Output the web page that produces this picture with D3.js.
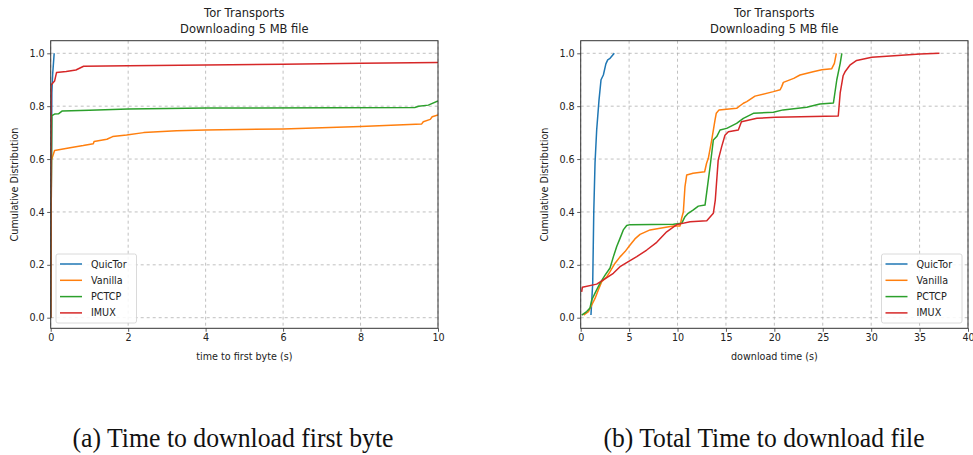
<!DOCTYPE html>
<html><head><meta charset="utf-8">
<script src="https://cdn.jsdelivr.net/npm/d3@7/dist/d3.min.js"></script>
<style>
html,body{margin:0;padding:0;background:#fff;}
svg{display:block;font-family:"DejaVu Sans",sans-serif;}
.cap{font-family:"Liberation Serif","Times New Roman",Times,serif;}
</style></head>
<body>
<svg id="chart" width="973" height="455"></svg>
<script>
// ---------- DATA ----------
const seriesNames = ["QuicTor", "Vanilla", "PCTCP", "IMUX"];
const seriesColors = ["#1f77b4", "#ff7f0e", "#2ca02c", "#d62728"];
const yTicks = [0.0, 0.2, 0.4, 0.6, 0.8, 1.0];
const ttfbXTicks = [0, 2, 4, 6, 8, 10];
const totalXTicks = [0, 5, 10, 15, 20, 25, 30, 35, 40];
const titleLines = ["Tor Transports", "Downloading 5 MB file"];
const captions = ["(a)  Time to download first byte", "(b)  Total Time to download file"];

// (a) time to first byte: [seconds, cdf]
const ttfbQuicTor = [[0,0],[0.01,0.3],[0.02,0.6],[0.03,0.85],[0.05,0.92],[0.07,0.96],[0.09,1.0]];
const ttfbVanilla = [[0,0],[0.01,0.3],[0.02,0.596],[0.1,0.632],[0.5,0.643],[0.84,0.651],[1.1,0.658],[1.12,0.666],[1.45,0.675],[1.6,0.685],[1.96,0.691],[2.4,0.70],[3.25,0.707],[4.0,0.71],[6.0,0.714],[8.0,0.723],[9.58,0.733],[9.62,0.741],[9.8,0.75],[9.85,0.76],[10,0.767]];
const ttfbPCTCP = [[0,0],[0.01,0.4],[0.03,0.764],[0.1,0.77],[0.2,0.771],[0.3,0.782],[1.0,0.785],[2.0,0.789],[4.0,0.793],[9.4,0.795],[9.5,0.80],[9.75,0.804],[10,0.82]];
const ttfbIMUX = [[0,0],[0.005,0.5],[0.01,0.88],[0.1,0.895],[0.15,0.927],[0.4,0.931],[0.65,0.937],[0.85,0.951],[2.0,0.953],[4.0,0.956],[6.0,0.959],[8.0,0.962],[10,0.965]];

// (b) total download time: [seconds, cdf]
const totalQuicTor = [[1.06,0.01],[1.24,0.13],[1.35,0.4],[1.48,0.585],[1.65,0.71],[1.89,0.823],[2.1,0.9],[2.34,0.918],[2.6,0.96],[2.79,0.975],[3.03,0.981],[3.47,1.0]];
const totalVanilla = [[0.3,0.01],[0.8,0.023],[1.14,0.048],[1.48,0.073],[1.82,0.105],[2.17,0.136],[2.7,0.155],[3.03,0.174],[3.55,0.206],[4.06,0.23],[4.58,0.25],[5.1,0.275],[5.6,0.298],[6.13,0.315],[7.16,0.332],[8.5,0.34],[9.57,0.347],[10.26,0.347],[10.43,0.377],[10.6,0.4],[10.77,0.496],[10.95,0.54],[11.6,0.546],[12.8,0.552],[13.0,0.584],[13.18,0.603],[13.53,0.672],[13.87,0.747],[14.0,0.773],[14.29,0.786],[16.1,0.792],[16.8,0.811],[17.15,0.817],[18.0,0.838],[19.9,0.855],[20.6,0.862],[20.76,0.874],[20.93,0.89],[22.0,0.905],[22.65,0.918],[24.0,0.93],[24.9,0.938],[25.93,0.942],[26.2,0.962],[26.4,1.0]];
const totalPCTCP = [[0.1,0.01],[0.62,0.023],[0.96,0.037],[1.14,0.067],[1.48,0.093],[2.0,0.131],[2.5,0.16],[3.03,0.188],[3.37,0.23],[3.72,0.269],[4.06,0.30],[4.4,0.332],[4.75,0.349],[5.1,0.352],[9.57,0.353],[10.43,0.357],[10.77,0.382],[11.1,0.395],[11.6,0.407],[12.15,0.422],[12.84,0.426],[13.0,0.47],[13.36,0.571],[13.7,0.672],[14.05,0.685],[14.39,0.71],[15.08,0.716],[16.1,0.735],[16.8,0.754],[17.83,0.773],[19.9,0.777],[20.9,0.786],[23.35,0.796],[24.7,0.808],[26.1,0.812],[26.45,0.9],[26.8,0.962],[26.97,1.0]];
const totalIMUX = [[0.1,0.098],[0.17,0.115],[1.65,0.127],[2.34,0.143],[3.37,0.168],[4.06,0.193],[4.92,0.212],[5.79,0.231],[6.82,0.256],[7.85,0.285],[8.88,0.325],[9.92,0.352],[11.3,0.363],[13.02,0.367],[13.7,0.395],[13.9,0.445],[14.2,0.596],[14.56,0.647],[14.9,0.69],[15.25,0.703],[16.28,0.71],[16.6,0.741],[18.2,0.754],[20.1,0.758],[26.6,0.763],[26.8,0.85],[27.1,0.915],[27.3,0.93],[27.8,0.955],[28.5,0.973],[30.06,0.985],[35.05,0.997],[37.05,1.0]];

// ---------- DRAW ----------
const svg = d3.select("#chart");
const panels = [
  {x0: 50.7, x1: 438, xDomain: [0, 10], xTicks: ttfbXTicks, xLabel: "time to first byte (s)",
   data: [ttfbQuicTor, ttfbVanilla, ttfbPCTCP, ttfbIMUX], legendX: 56, caption: captions[0], capX: 233},
  {x0: 580.7, x1: 968, xDomain: [0, 40], xTicks: totalXTicks, xLabel: "download time (s)",
   data: [totalQuicTor, totalVanilla, totalPCTCP, totalIMUX], legendX: 881.5, caption: captions[1], capX: 764}
];
const yTop = 40.7, yBot = 328.3;
const fontSm = 9.6;

panels.forEach((p, pi) => {
  const x = d3.scaleLinear().domain(p.xDomain).range([p.x0, p.x1]);
  const y = d3.scaleLinear().domain([0, 1]).range([317.7, 53.3]);
  const g = svg.append("g");
  const cx = (p.x0 + p.x1) / 2;

  // grid
  g.append("g").selectAll("line").data(p.xTicks).join("line")
    .attr("x1", d => x(d)).attr("x2", d => x(d)).attr("y1", yTop).attr("y2", yBot)
    .attr("stroke", "#b0b0b0").attr("stroke-width", 0.8).attr("stroke-dasharray", "3,3");
  g.append("g").selectAll("line").data(yTicks).join("line")
    .attr("x1", p.x0).attr("x2", p.x1).attr("y1", d => y(d)).attr("y2", d => y(d))
    .attr("stroke", "#b0b0b0").attr("stroke-width", 0.8).attr("stroke-dasharray", "3,3");

  // clip
  const clipId = "clip" + pi;
  svg.append("defs").append("clipPath").attr("id", clipId).append("rect")
    .attr("x", p.x0).attr("y", yTop).attr("width", p.x1 - p.x0).attr("height", yBot - yTop);

  const line = d3.line().x(d => x(d[0])).y(d => y(d[1]));
  const lg = g.append("g").attr("clip-path", `url(#${clipId})`);
  p.data.forEach((s, i) => {
    lg.append("path").datum(s).attr("d", line).attr("fill", "none")
      .attr("stroke", seriesColors[i]).attr("stroke-width", 1.5).attr("stroke-linejoin", "round");
  });

  // axes
  const xAxis = d3.axisBottom(x).tickValues(p.xTicks).tickFormat(d3.format("d")).tickSize(3.5).tickPadding(2.5);
  const xg = g.append("g").attr("transform", `translate(0,${yBot})`).call(xAxis);
  const yAxis = d3.axisLeft(y).tickValues(yTicks).tickFormat(d3.format(".1f")).tickSize(3.5).tickPadding(2.5);
  const yg = g.append("g").attr("transform", `translate(${p.x0},0)`).call(yAxis);
  [xg, yg].forEach(a => {
    a.select(".domain").remove();
    a.selectAll(".tick line").attr("stroke", "#333").attr("stroke-width", 0.8);
    a.selectAll(".tick text").attr("fill", "#222").style("font-family", "DejaVu Sans").style("font-size", fontSm + "px");
  });

  // frame
  g.append("rect").attr("x", p.x0).attr("y", yTop).attr("width", p.x1 - p.x0).attr("height", yBot - yTop)
    .attr("fill", "none").attr("stroke", "#333").attr("stroke-width", 1);

  // titles
  g.append("text").attr("x", cx).attr("y", 17).attr("text-anchor", "middle")
    .style("font-size", "11.5px").attr("fill", "#222").text(titleLines[0]);
  g.append("text").attr("x", cx).attr("y", 33).attr("text-anchor", "middle")
    .style("font-size", "11.5px").attr("fill", "#222").text(titleLines[1]);

  // axis labels
  g.append("text").attr("x", cx).attr("y", 359.5).attr("text-anchor", "middle")
    .style("font-size", fontSm + "px").attr("fill", "#222").text(p.xLabel);
  g.append("text").attr("transform", `translate(${p.x0 - 32.5},${(yTop + yBot) / 2}) rotate(-90)`)
    .attr("text-anchor", "middle").style("font-size", fontSm + "px").attr("fill", "#222")
    .text("Cumulative Distribution");

  // legend
  const lx = p.legendX, ly = 254, lw = 80.5, lh = 69;
  const leg = g.append("g");
  leg.append("rect").attr("x", lx).attr("y", ly).attr("width", lw).attr("height", lh)
    .attr("rx", 2).attr("fill", "#fff").attr("fill-opacity", 0.85).attr("stroke", "#d0d0d0").attr("stroke-width", 0.8);
  seriesNames.forEach((n, i) => {
    const ry = 264 + i * 16.3;
    leg.append("line").attr("x1", lx + 4).attr("x2", lx + 26).attr("y1", ry).attr("y2", ry)
      .attr("stroke", seriesColors[i]).attr("stroke-width", 1.5);
    leg.append("text").attr("x", lx + 35).attr("y", ry + 3.5)
      .style("font-size", fontSm + "px").attr("fill", "#222").text(n);
  });

  // caption
  svg.append("text").attr("class", "cap").attr("x", p.capX).attr("y", 447).attr("text-anchor", "middle")
    .style("font-size", "27px").attr("fill", "#111")
    .attr("textLength", 321).attr("lengthAdjust", "spacingAndGlyphs")
    .text(p.caption);
});
</script>
</body></html>
